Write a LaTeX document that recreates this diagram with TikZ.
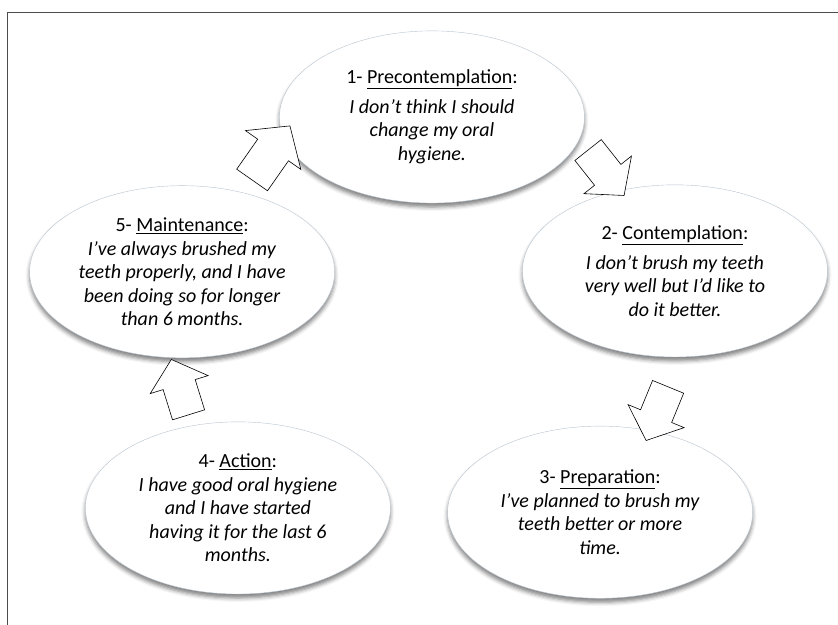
\documentclass[tikz,border=0pt]{standalone}
\usepackage{fontspec}
\setmainfont{Carlito}
\usetikzlibrary{shapes.geometric,shapes.arrows,shadows.blur}

\definecolor{rimgray}{RGB}{186,198,208}

\begin{document}
\begin{tikzpicture}[
    stage/.style={
        ellipse, draw=rimgray, fill=white, thin,
        minimum width=10.72cm, minimum height=6.05cm,
        align=center, inner sep=0pt,
        font=\fontsize{20}{23.5}\selectfont,
        blur shadow={shadow xshift=0pt, shadow yshift=-4pt,
            shadow blur radius=4pt, shadow opacity=50}
    },
    turn/.style={
        single arrow, draw=black, fill=white, semithick,
        minimum height=58pt, inner xsep=0pt, inner ysep=16.5pt,
        single arrow head extend=13.5pt, single arrow tip angle=98
    }
]

\useasboundingbox (0,0) rectangle (29.45,-21.93);
\draw[black!70, thin] (0.25,-0.42) rectangle (31,-23);

% --- Stages ---
\node[stage] (pre) at (15.18, -4.11) {
    1- \underline{Precontemplation}: \\[6pt]
    \textit{I don’t think I should} \\
    \textit{change my oral} \\
    \textit{hygiene.}
};

\node[stage] (con) at (23.72, -9.52) {
    2- \underline{Contemplation}: \\[6pt]
    \textit{I don’t brush my teeth} \\
    \textit{very well but I’d like to} \\
    \textit{do it better.}
};

\node[stage] (prep) at (21.09, -18.0) {
    3- \underline{Preparation}: \\
    \textit{I’ve planned to brush my} \\
    \textit{teeth better or more} \\
    \textit{time.}
};

\node[stage] (act) at (8.36, -17.85) {
    4- \underline{Action}: \\
    \textit{I have good oral hygiene} \\
    \textit{and I have started} \\
    \textit{having it for the last 6} \\
    \textit{months.}
};

\node[stage] (main) at (6.40, -9.55) {
    5- \underline{Maintenance}: \\
    \textit{I’ve always brushed my} \\
    \textit{teeth properly, and I have} \\
    \textit{been doing so for longer} \\
    \textit{than 6 months.}
};

% --- Arrows between stages ---
\node[turn, rotate=55, minimum height=66pt, inner ysep=18.5pt,
      single arrow head extend=15pt] (main-pre) at (9.36, -5.61) {};
\node[turn, rotate=-51.6] (pre-con) at (21.14, -5.87) {};
\node[turn, rotate=-112.3] (con-prep) at (23.19, -14.30) {};
\node[turn, rotate=107.3] (act-main) at (6.40, -13.85) {};

\end{tikzpicture}
\end{document}
